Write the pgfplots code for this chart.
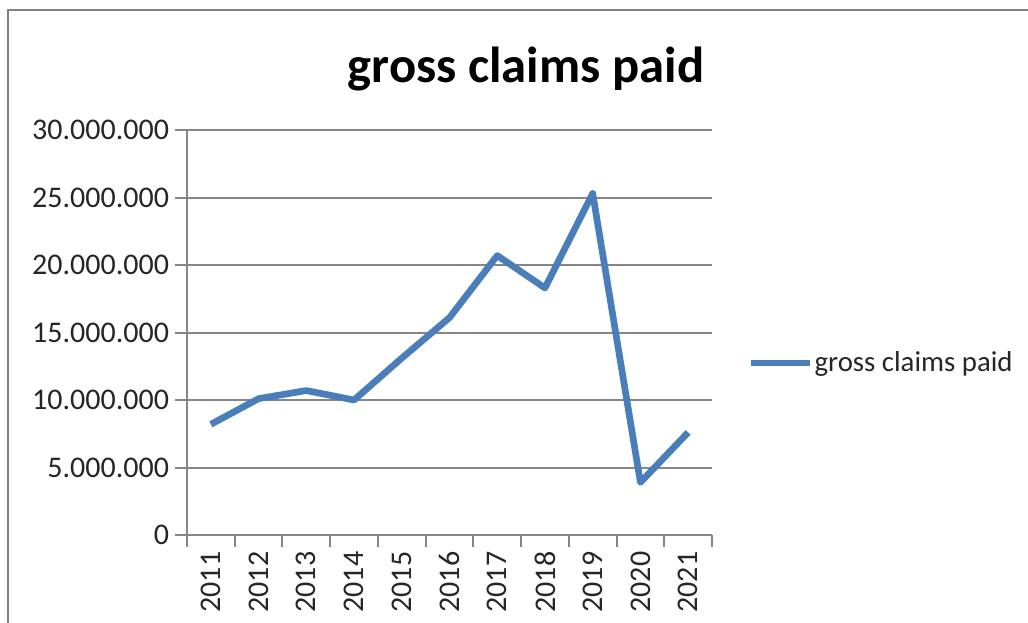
\documentclass[border=0pt]{standalone}
\usepackage{pgfplots}
\pgfplotsset{compat=1.18}
\usepackage{fontspec}
\setmainfont{Carlito}
\definecolor{serblue}{RGB}{74,126,187}
\definecolor{gridgray}{RGB}{134,134,134}
\definecolor{bordergray}{RGB}{128,128,128}
\begin{document}
\begin{tikzpicture}
\path[use as bounding box] (0,0) rectangle (771pt,466.5pt);
\fill[white] (0,0) rectangle (771pt,466.5pt);
\draw[bordergray, line width=1.5pt] (6pt,-2pt) -- (6pt,459pt) -- (775pt,459pt);
\node[anchor=base, font=\fontsize{38pt}{44pt}\selectfont\bfseries] at (394.5pt,404.25pt) {gross claims paid};
\begin{axis}[
  at={(140.25pt,65.25pt)}, anchor=south west,
  scale only axis,
  width=393.75pt, height=303.75pt,
  xmin=-0.5, xmax=10.5,
  ymin=0, ymax=30000000,
  ytick={0,5000000,10000000,15000000,20000000,25000000,30000000},
  scaled y ticks=false,
  yticklabel style={/pgf/number format/fixed, /pgf/number format/1000 sep={.}, /pgf/number format/assume math mode=true, xshift=-1pt},
  xtick={0,...,10},
  xticklabels={2011,2012,2013,2014,2015,2016,2017,2018,2019,2020,2021},
  minor xtick={-0.5,0.5,...,10.5},
  xticklabel style={rotate=90, anchor=east},
  axis lines=left,
  axis line style={-, gridgray, line width=1.5pt},
  ymajorgrids,
  major grid style={gridgray, line width=1.5pt},
  tick align=outside,
  major x tick style={draw=none},
  minor x tick style={gridgray, line width=1.5pt},
  major y tick style={gridgray, line width=1.5pt},
  major tick length=9pt,
  minor tick length=9pt,
  ticklabel style={font=\fontsize{22.5pt}{27pt}\selectfont, text=black!85},
  legend style={at={(1.068,0.4247)}, anchor=west, draw=none, fill=none, inner sep=0pt,
    font=\fontsize{21.6pt}{26pt}\selectfont, text=black!85,
    nodes={inner xsep=1pt}},
  legend cell align=left,
  legend image code/.code={\draw[#1] (0pt,0pt) -- (44pt,0pt);},
  clip=false,
]
\addplot[serblue, line width=5pt, line join=round] coordinates {
(0,8200000) (1,10100000) (2,10700000) (3,10000000) (4,13100000) (5,16100000)
(6,20700000) (7,18300000) (8,25300000) (9,3900000) (10,7600000)};
\addlegendentry{gross claims paid}
\end{axis}
\end{tikzpicture}
\end{document}
